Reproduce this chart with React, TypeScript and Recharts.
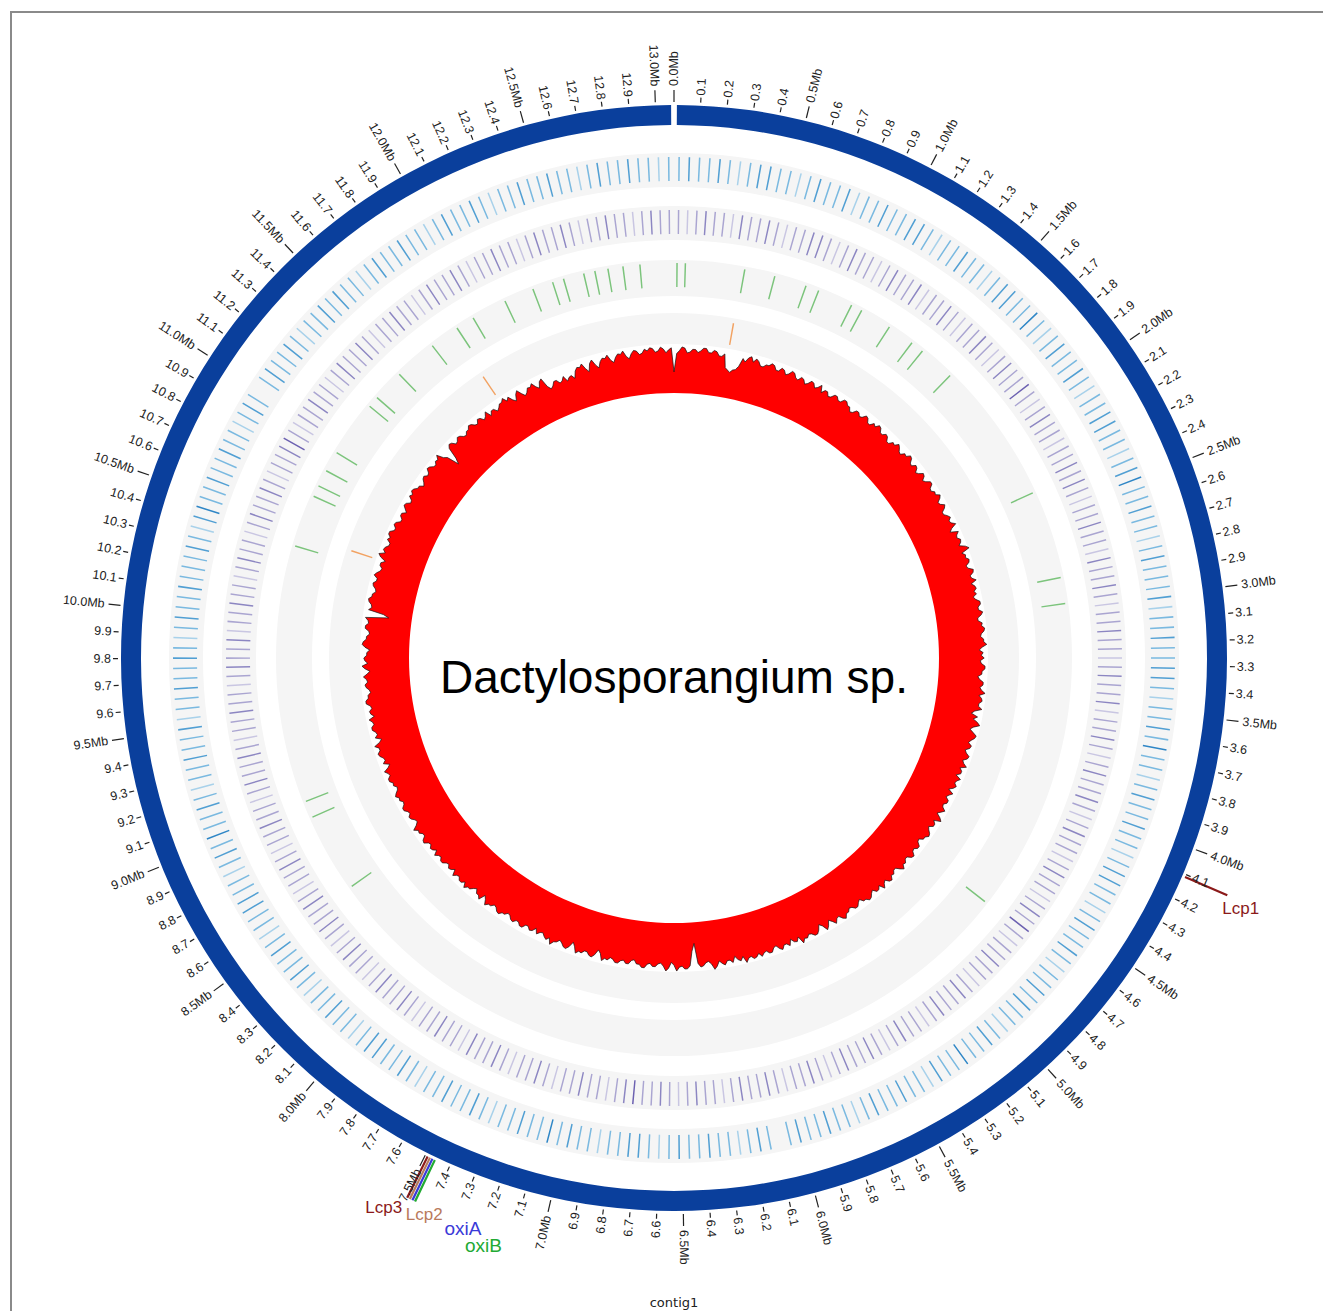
import React from "react";
import {
  PieChart,
  Pie,
  Cell,
  RadarChart,
  Radar,
  PolarAngleAxis,
  PolarRadiusAxis,
} from "recharts";

const W = 1323;
const H = 1311;
const CX = 674;
const CY = 658;
const GENOME_MB = 13.07;
const NO_MARGIN = { top: 0, right: 0, bottom: 0, left: 0 };

// scale ticks every 0.1 Mb
const scaleTicks = Array.from({ length: 131 }, (_, i) => i / 10);

const geneNames = ["Lcp1", "oxiB", "oxiA", "Lcp2", "Lcp3"];
const genePos = [4.11, 7.46, 7.47, 7.48, 7.49];
const geneColors = ["#8b1a1a", "#22aa33", "#3a3ad8", "#b97a5c", "#8b1a1a"];

const greenPos = [
  0.016, 0.06, 0.375, 0.537, 0.709, 0.78, 0.97, 1.03, 1.2, 1.345, 1.415, 1.61,
  2.37, 2.84, 2.98, 4.65, 8.52, 8.94, 9.03, 10.4, 10.68, 10.74, 10.83, 10.94,
  11.24, 11.3, 11.47, 11.7, 11.86, 11.96, 12.15, 12.31, 12.42, 12.48, 12.59,
  12.65, 12.72, 12.8, 12.89,
];
const orangePos = [0.366, 10.47, 11.83];

const blueLevels = [
  2,3,2,2,3,2,1,2,3,3,2,2,1,2,3,2,2,3,1,2,2,3,2,2,3,3,2,1,2,2,3,2,2,1,
  2,3,3,2,2,4,2,1,2,3,2,2,3,2,1,2,2,3,3,2,2,1,2,3,4,2,2,3,2,2,1,2,3,2,
  2,2,3,1,2,2,3,2,2,3,3,2,1,2,2,3,2,4,2,2,1,2,3,2,2,3,2,2,1,2,3,3,2,2,
  1,2,3,2,2,3,2,1,2,2,3,2,3,2,2,1,2,3,2,2,4,2,2,3,1,2,2,3,2,2,3,2,1,2,
  2,3,2,2,3,2,0,2,3,2,1,2,2,3,2,2,3,2,1,2,3,3,2,2,1,2,2,3,2,4,2,2,3,2,
  2,1,2,3,2,2,3,2,2,1,2,3,2,2,3,3,2,1,2,2,3,2,2,1,2,3,2,2,3,2,1,2,2,3,
  3,2,2,1,2,3,2,4,2,2,3,2,1,2,2,3,2,2,3,1,2,2,3,2,2,3,2,1,2,3,2,2,3,2,
  2,2,3,2,1,3,4,2,2,3,2,2,3,2,2,1,2,3,2,0,2,3,2,2,3,2,1,2,2,3,2,3,2,2,
  1,2,3,2,2,3,2,2,1,2,3,2,2,3,2,1,2,2,3,2,2,3,2,2,1,2,3,2,2,3,2,2,1,2,
];

const purpleLevels = [
  2,1,2,3,2,2,1,3,2,2,3,2,1,2,2,3,3,2,1,2,3,2,2,1,2,3,2,2,3,1,2,2,3,2,
  1,2,2,3,2,1,2,3,2,2,4,2,1,2,3,2,2,1,2,2,3,2,3,2,1,2,2,3,2,2,1,3,2,2,
  3,2,1,2,2,3,2,2,1,2,3,2,2,3,1,2,2,3,2,1,2,3,2,2,3,2,1,2,3,2,2,1,2,3,
  2,2,1,2,3,2,4,2,1,2,2,3,2,2,1,2,3,2,2,3,2,1,2,2,3,2,1,2,3,2,2,3,2,1,
  2,3,2,2,1,2,3,2,2,3,2,1,2,2,3,2,1,2,3,2,2,4,3,2,1,2,2,3,2,2,1,2,3,2,
  2,1,2,3,2,2,3,1,2,2,3,2,2,1,2,3,2,2,3,2,1,2,2,3,2,1,2,3,2,2,3,2,1,2,
  2,3,2,1,2,2,3,2,2,1,2,3,2,2,3,2,1,2,2,3,2,2,1,2,3,2,2,3,1,2,2,3,2,2,
  1,2,3,2,2,1,2,3,2,2,3,2,1,2,2,3,4,2,1,2,2,3,2,2,1,2,3,2,2,3,2,1,2,2,
  3,2,2,1,2,3,2,2,3,2,1,2,2,3,2,2,1,2,3,2,2,3,2,1,2,2,3,2,2,1,2,3,2,2,
];

// GC track height per half degree (clockwise from 0 Mb)
const gcHeight = [
  22,41,44,48,47,42,43,46,46,43,45,48,48,44,44,47,46,42,42,45,31,29,27,30,31,35,44,41,46,48,
  43,47,45,41,41,44,44,47,46,42,42,46,45,41,43,47,46,42,41,45,44,40,42,46,45,41,43,47,40,44,
  44,40,41,45,45,42,42,46,46,43,43,39,40,44,44,41,42,46,45,41,41,45,43,47,46,42,42,45,44,40,
  40,44,43,47,45,42,41,45,44,48,47,43,42,46,45,41,43,47,46,42,44,48,48,44,43,46,45,49,47,43,
  44,48,46,42,42,45,47,44,45,49,43,40,48,45,44,47,46,43,49,52,43,46,45,48,47,43,44,49,48,44,
  45,49,43,46,47,44,46,42,44,48,48,45,45,49,47,43,43,47,46,49,48,45,44,47,47,50,45,42,46,44,
  47,43,44,48,48,45,45,41,43,47,47,44,46,50,44,47,48,45,45,49,42,39,46,42,47,50,44,41,45,49,
  48,45,43,47,46,42,44,48,47,43,45,49,43,46,46,42,48,45,44,47,45,41,47,44,42,46,46,43,44,48,
  45,42,47,50,43,46,46,42,44,47,48,45,45,41,42,46,46,43,44,48,47,43,43,46,45,49,46,42,42,45,
  44,48,47,43,45,49,43,46,46,42,44,47,48,45,45,41,43,46,46,43,42,45,45,49,47,43,44,48,44,41,
  46,49,43,40,45,48,48,45,44,47,46,50,42,46,45,41,47,44,44,48,46,42,43,47,47,44,45,48,44,47,
  48,45,46,50,43,47,45,41,47,44,44,48,46,43,48,51,45,42,43,46,47,43,22,30,45,48,48,45,46,50,
  44,41,47,50,45,42,43,46,46,43,44,48,48,45,45,41,42,46,46,43,44,47,47,44,43,46,45,48,41,38,
  44,47,46,43,43,46,45,48,42,38,44,47,46,43,41,44,45,49,43,46,44,41,42,45,40,44,45,42,42,46,
  46,43,43,46,45,42,41,44,44,47,46,43,42,45,45,48,43,40,47,44,44,40,42,45,45,48,43,46,46,43,
  44,47,41,44,45,42,43,46,46,43,44,47,42,45,46,43,44,48,47,43,43,46,45,49,44,41,42,45,46,43,
  44,47,47,44,43,46,45,48,46,43,42,45,44,47,47,44,45,48,43,40,46,43,44,47,48,45,45,49,43,40,
  46,43,44,47,47,44,45,48,42,45,46,43,44,48,48,45,45,42,43,46,47,44,45,48,44,41,46,49,43,46,
  47,44,44,41,46,49,48,45,45,42,43,47,47,44,45,48,24,30,46,43,44,47,48,45,45,42,43,46,47,44,
  44,48,46,43,42,45,45,41,47,50,44,47,46,43,43,47,45,48,48,44,44,47,46,42,42,45,45,41,44,47,
  46,42,43,47,45,48,47,44,44,40,42,45,46,43,44,48,47,44,43,46,45,49,42,39,26,32,44,47,46,42,
  43,46,45,42,41,44,44,47,46,43,42,46,45,41,43,47,40,44,44,40,42,45,45,48,43,46,41,38,44,47,
  42,38,40,44,43,46,41,38,44,46,36,32,34,38,38,34,35,39,33,36,37,33,40,43,42,45,39,35,43,46,
  40,36,42,45,44,47,41,38,43,46,45,48,42,39,44,47,46,42,43,47,45,48,47,43,44,48,46,42,45,47,
];

const blueColors = ["#a8d1ea", "#7ab9e0", "#519fd3", "#2f86c6"];
const purpleColors = ["#c9c6e2", "#aaa5d1", "#8c86c2", "#6c61b1"];

type Seg = { v: number; fill: string; name?: string };

function windowSegs(levels: number[], colors: string[], lineW: number): Seg[] {
  const w = GENOME_MB / levels.length;
  const half = (w - lineW) / 2;
  return levels.flatMap((l) => [
    { v: half, fill: "none" },
    { v: lineW, fill: l > 0 ? colors[l - 1] : "none" },
    { v: half, fill: "none" },
  ]);
}

function featureSegs(pos: number[], width: number, fill: string, names?: string[], fills?: string[]): Seg[] {
  const order = pos.map((p, i) => i).sort((a, b) => pos[a] - pos[b]);
  const segs: Seg[] = [];
  let cur = 0;
  order.forEach((i) => {
    const s = Math.max(cur, pos[i] - width / 2);
    if (s > cur) segs.push({ v: s - cur, fill: "none" });
    segs.push({ v: width, fill: fills ? fills[i] : fill, name: names ? names[i] : undefined });
    cur = s + width;
  });
  if (GENOME_MB > cur) segs.push({ v: GENOME_MB - cur, fill: "none" });
  return segs;
}

const blueSegs = windowSegs(blueLevels, blueColors, 0.0065);
const purpleSegs = windowSegs(purpleLevels, purpleColors, 0.007);
const greenSegs = featureSegs(greenPos, 0.008, "#7cc47c");
const orangeSegs = featureSegs(orangePos, 0.009, "#f2a262");
const geneSegs = featureSegs(genePos, 0.008, "#000", geneNames, geneColors);
const tickSegs: Seg[] = scaleTicks.map((t, i) => ({
  v: i < scaleTicks.length - 1 ? scaleTicks[i + 1] - t : GENOME_MB - t,
  fill: "none",
}));
const gcData = gcHeight.map((h, i) => ({ pos: i, gc: h }));

const geneLabelPlace: Record<string, { dx: number; dy: number; anchor: "start" | "end"; size: number }> = {
  Lcp1: { dx: -5, dy: 19, anchor: "start", size: 17 },
  Lcp3: { dx: -5, dy: 15, anchor: "end", size: 17 },
  Lcp2: { dx: -4, dy: 21, anchor: "start", size: 17 },
  oxiA: { dx: 32, dy: 35, anchor: "start", size: 19 },
  oxiB: { dx: 50, dy: 51, anchor: "start", size: 19 },
};

const polar = (cx: number, cy: number, r: number, theta: number) => {
  const rad = (theta * Math.PI) / 180;
  return [cx + r * Math.sin(rad), cy - r * Math.cos(rad)];
};

const renderScaleTick = (p: any) => {
  const t = scaleTicks[p.index];
  if (t === undefined) return <g />;
  const major = Math.round(t * 10) % 5 === 0;
  let theta = 90 - p.startAngle;
  theta = ((theta % 360) + 360) % 360;
  const [x1, y1] = polar(p.cx, p.cy, 556, theta);
  const [x2, y2] = polar(p.cx, p.cy, major ? 568 : 561, theta);
  const [tx, ty] = polar(p.cx, p.cy, major ? 572 : 563, theta);
  const right = theta < 180;
  const rot = right ? theta - 90 : theta - 270;
  const label = major ? `${t.toFixed(1)}Mb` : t.toFixed(1);
  return (
    <g key={`tick-${p.index}`}>
      <line x1={x1} y1={y1} x2={x2} y2={y2} stroke="#222" strokeWidth={1.2} />
      <text
        x={tx}
        y={ty}
        transform={`rotate(${rot} ${tx} ${ty})`}
        textAnchor={right ? "start" : "end"}
        dominantBaseline="central"
        fontSize={12.5}
        fill="#222"
        fontFamily="Liberation Sans, Arial, sans-serif"
      >
        {label}
      </text>
    </g>
  );
};

const renderGeneLabel = (p: any) => {
  const s = geneSegs[p.index];
  if (!s || !s.name) return <g />;
  const place = geneLabelPlace[s.name];
  const theta = 90 - p.midAngle;
  const [x, y] = polar(p.cx, p.cy, 602, theta);
  return (
    <text
      key={`gene-${s.name}`}
      x={x + place.dx}
      y={y + place.dy}
      textAnchor={place.anchor}
      fontSize={place.size}
      fill={s.fill}
      fontFamily="Liberation Sans, Arial, sans-serif"
    >
      {s.name}
    </text>
  );
};

const renderContig = (p: any) => {
  const theta = 90 - p.midAngle;
  const [x, y] = polar(p.cx, p.cy, 644, theta);
  return (
    <text x={x} y={y} textAnchor="middle" dominantBaseline="central" fontSize={13} fill="#222" fontFamily="DejaVu Sans, sans-serif">
      contig1
    </text>
  );
};

const renderTitle = (p: any) => (
  <text x={p.cx} y={p.cy + 35} textAnchor="middle" fontSize={46} fill="#000" fontFamily="Liberation Sans, Arial, sans-serif">
    Dactylosporangium sp.
  </text>
);

const pieBase = {
  dataKey: "v",
  cx: CX,
  cy: CY,
  startAngle: 90,
  endAngle: -270,
  stroke: "none",
  isAnimationActive: false,
};

const layer: React.CSSProperties = { position: "absolute", left: 0, top: 0 };

const bands = [
  { inner: 471, outer: 505 },
  { inner: 418, outer: 452 },
  { inner: 362, outer: 398 },
  { inner: 314, outer: 345 },
];

export default function App() {
  return (
    <div style={{ position: "absolute", left: 0, top: 0, width: W, height: H, overflow: "hidden", background: "#fff" }}>
      <div style={{ position: "absolute", left: 10, top: 11, width: 1400, height: 1400, borderTop: "2px solid #8a8a8a", borderLeft: "2px solid #8a8a8a" }} />
      <div style={layer}>
        <PieChart width={W} height={H} margin={NO_MARGIN}>
          {bands.map((b, i) => (
            <Pie key={`band-${i}`} {...pieBase} data={[{ v: 1 }]} innerRadius={b.inner} outerRadius={b.outer} fill="#f5f5f5" />
          ))}
          <Pie {...pieBase} data={blueSegs} innerRadius={477} outerRadius={501}>
            {blueSegs.map((s, i) => <Cell key={i} fill={s.fill} stroke="none" />)}
          </Pie>
          <Pie {...pieBase} data={purpleSegs} innerRadius={424} outerRadius={448}>
            {purpleSegs.map((s, i) => <Cell key={i} fill={s.fill} stroke="none" />)}
          </Pie>
          <Pie {...pieBase} data={greenSegs} innerRadius={371} outerRadius={395}>
            {greenSegs.map((s, i) => <Cell key={i} fill={s.fill} stroke="none" />)}
          </Pie>
          <Pie {...pieBase} data={orangeSegs} innerRadius={318} outerRadius={340}>
            {orangeSegs.map((s, i) => <Cell key={i} fill={s.fill} stroke="none" />)}
          </Pie>
          <Pie
            {...pieBase}
            data={[{ v: 1 }]}
            startAngle={89.7}
            endAngle={-269.7}
            innerRadius={533}
            outerRadius={553}
            fill="#0a3f9c"
            label={renderContig}
            labelLine={false}
          />
          <Pie {...pieBase} data={tickSegs} innerRadius={553} outerRadius={553.5} fill="none" label={renderScaleTick} labelLine={false}>
            {tickSegs.map((s, i) => <Cell key={i} fill="none" stroke="none" />)}
          </Pie>
          <Pie {...pieBase} data={geneSegs} innerRadius={556} outerRadius={602} label={renderGeneLabel} labelLine={false}>
            {geneSegs.map((s, i) => <Cell key={i} fill={s.fill} stroke="none" />)}
          </Pie>
        </PieChart>
      </div>
      <div style={layer}>
        <RadarChart width={W} height={H} cx={CX} cy={CY} innerRadius={265} outerRadius={315} startAngle={90} endAngle={-270} data={gcData} margin={NO_MARGIN}>
          <PolarAngleAxis dataKey="pos" tick={false} tickLine={false} axisLine={false} />
          <PolarRadiusAxis domain={[0, 50]} tick={false} tickLine={false} axisLine={false} />
          <Radar dataKey="gc" fill="#ff0000" fillOpacity={1} stroke="#111" strokeWidth={0.7} dot={false} isAnimationActive={false} />
        </RadarChart>
      </div>
      <div style={layer}>
        <PieChart width={W} height={H} margin={NO_MARGIN}>
          <Pie {...pieBase} data={[{ v: 1 }]} innerRadius={0} outerRadius={265} fill="#ffffff" label={renderTitle} labelLine={false} />
        </PieChart>
      </div>
    </div>
  );
}
